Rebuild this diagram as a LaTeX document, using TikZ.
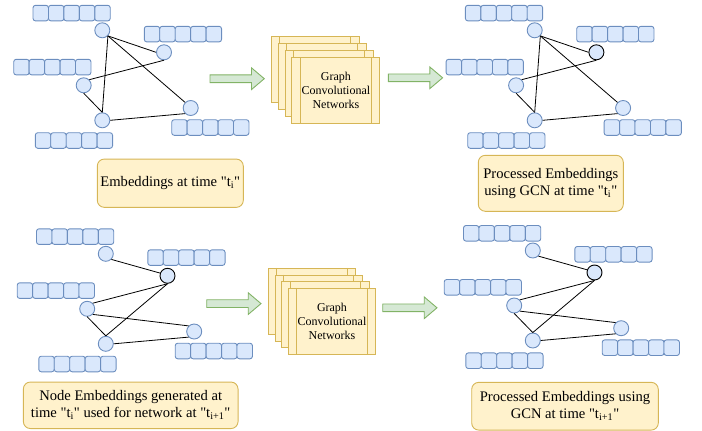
\documentclass[tikz,border=0pt]{standalone}
\usepackage{fontspec}
\setmainfont{Liberation Serif}[Ligatures=TeXOff]
\usetikzlibrary{calc}
\definecolor{bfill}{HTML}{DAE8FC}
\definecolor{bline}{HTML}{6C8EBF}
\definecolor{yfill}{HTML}{FFF2CC}
\definecolor{yline}{HTML}{D6B656}
\definecolor{gfill}{HTML}{D5E8D4}
\definecolor{gline}{HTML}{82B366}
\tikzset{
  vnode/.style={circle, minimum size=15pt, inner sep=0pt, fill=bfill, draw=bline, line width=0.9pt},
  darknode/.style={draw=black},
  plainnode/.style={},
  cell/.style={fill=bfill, draw=bline, line width=0.9pt, rounded corners=2.5pt},
  edge/.style={draw=black, line width=0.8pt},
  gcnbox/.style={rectangle, minimum width=88pt, minimum height=66pt, inner sep=0pt,
    fill=yfill, draw=yline, line width=0.9pt, align=center,
    font=\fontsize{12}{14}\selectfont},
  gcnline/.style={draw=yline, line width=0.9pt},
  capbox/.style={rectangle, rounded corners=7pt, fill=yfill, draw=yline, line width=0.9pt,
    align=center, inner sep=0pt, font=\fontsize{14.6}{17}\selectfont},
  blockarrow/.style={fill=gfill, draw=gline, line width=0.9pt},
  garrow/.pic={\draw[blockarrow] (0,-3.85) -- (41.5,-3.85) -- (41.5,-10.85) -- (54.3,0)
     -- (41.5,10.85) -- (41.5,3.85) -- (0,3.85) -- cycle;}
}
\newcommand\cellrow[2]{\foreach \k in {0,...,4} {\draw[cell] ({#1+\k*15.45},#2) rectangle ++(15.45,15.6);}}
\newcommand\embgraph[4]{%
  \begin{scope}[shift={(#2,#3)}]
    \cellrow{33}{5.3}
    \cellrow{144.3}{26.3}
    \cellrow{13.7}{59.3}
    \cellrow{171.7}{119.7}
    \cellrow{35.3}{132.7}
    \node[vnode] (#1A) at (102.3,30.3) {};
    \node[vnode,#4] (#1B) at (164,52.3) {};
    \node[vnode] (#1C) at (83.7,85.3) {};
    \node[vnode] (#1D) at (102.3,120.3) {};
    \node[vnode] (#1E) at (190.7,108) {};
  \end{scope}}
\newcommand\gcnrect[3]{%
  \node[gcnbox] (#1) at (#2) {#3};
  \draw[gcnline] ([xshift=9pt]#1.north west) -- ([xshift=9pt]#1.south west);
  \draw[gcnline] ([xshift=-9pt]#1.north east) -- ([xshift=-9pt]#1.south east);}
\begin{document}
\begin{tikzpicture}[x=1pt,y=-1pt]
\useasboundingbox (0,0) rectangle (702,431);

% graphs
\embgraph{g1}{0}{0}{plainnode}
\embgraph{g2}{432.4}{0}{darknode}
\embgraph{g3}{3.5}{223.5}{darknode}
\embgraph{g4}{430.5}{220.2}{darknode}

\foreach \g in {g1,g2} {
  \draw[edge] (\g A.south east) -- (\g B.west);
  \draw[edge] (\g A.south east) -- (\g E.north west);
  \draw[edge] (\g A.south east) -- (\g D.north);
  \draw[edge] (\g C.north east) -- (\g B.south);
  \draw[edge] (\g C.south) -- (\g D.north);
  \draw[edge] (\g D.east) -- (\g E.south west);
}
\foreach \g in {g3,g4} {
  \draw[edge] (\g A.south east) -- (\g B.160);
  \draw[edge] (\g C.north east) -- (\g B.south);
  \draw[edge] (\g B.south) -- (\g D.north);
  \draw[edge] (\g C.south) -- (\g D.north);
  \draw[edge] (\g C.south east) -- (\g E.north west);
  \draw[edge] (\g D.east) -- (\g E.south west);
}

% GCN stacks
\gcnrect{s1a}{315.15,69.7}{}
\gcnrect{s1b}{322.05,76.7}{}
\gcnrect{s1c}{328.95,83.7}{}
\gcnrect{s1d}{335.85,90.7}{Graph\\Convolutional\\Networks}
\begin{scope}
\tikzset{gcnbox/.append style={minimum width=87.4pt}}
\gcnrect{s2a}{312,301.3}{}
\gcnrect{s2b}{318.67,307.97}{}
\gcnrect{s2c}{325.33,314.63}{}
\gcnrect{s2d}{332,321.3}{Graph\\Convolutional\\Networks}
\end{scope}

% block arrows
\pic at (210,78.7) {garrow};
\pic at (388.3,77.8) {garrow};
\pic at (206.7,303.6) {garrow};
\pic at (382.7,307.8) {garrow};

% captions
\node[capbox, minimum width=146pt, minimum height=48.3pt] (cap1) at (170.3,183.2)
  {Embeddings at time "t\textsubscript{i}"};
\node[capbox, minimum width=145pt, minimum height=56pt] (cap2) at (550.8,183.3)
  {Processed Embeddings\\using GCN at time "t\textsubscript{i}"};
\node[capbox, minimum width=214.7pt, minimum height=46.5pt] (cap3) at (130.7,405.3)
  {Node Embeddings generated at\\time "t\textsubscript{i}" used for network at "t\textsubscript{i+1}"};
\node[capbox, minimum width=186.6pt, minimum height=47.7pt] (cap4) at (565,406.2)
  {Processed Embeddings using\\GCN at time "t\textsubscript{i+1}"};
\end{tikzpicture}
\end{document}
